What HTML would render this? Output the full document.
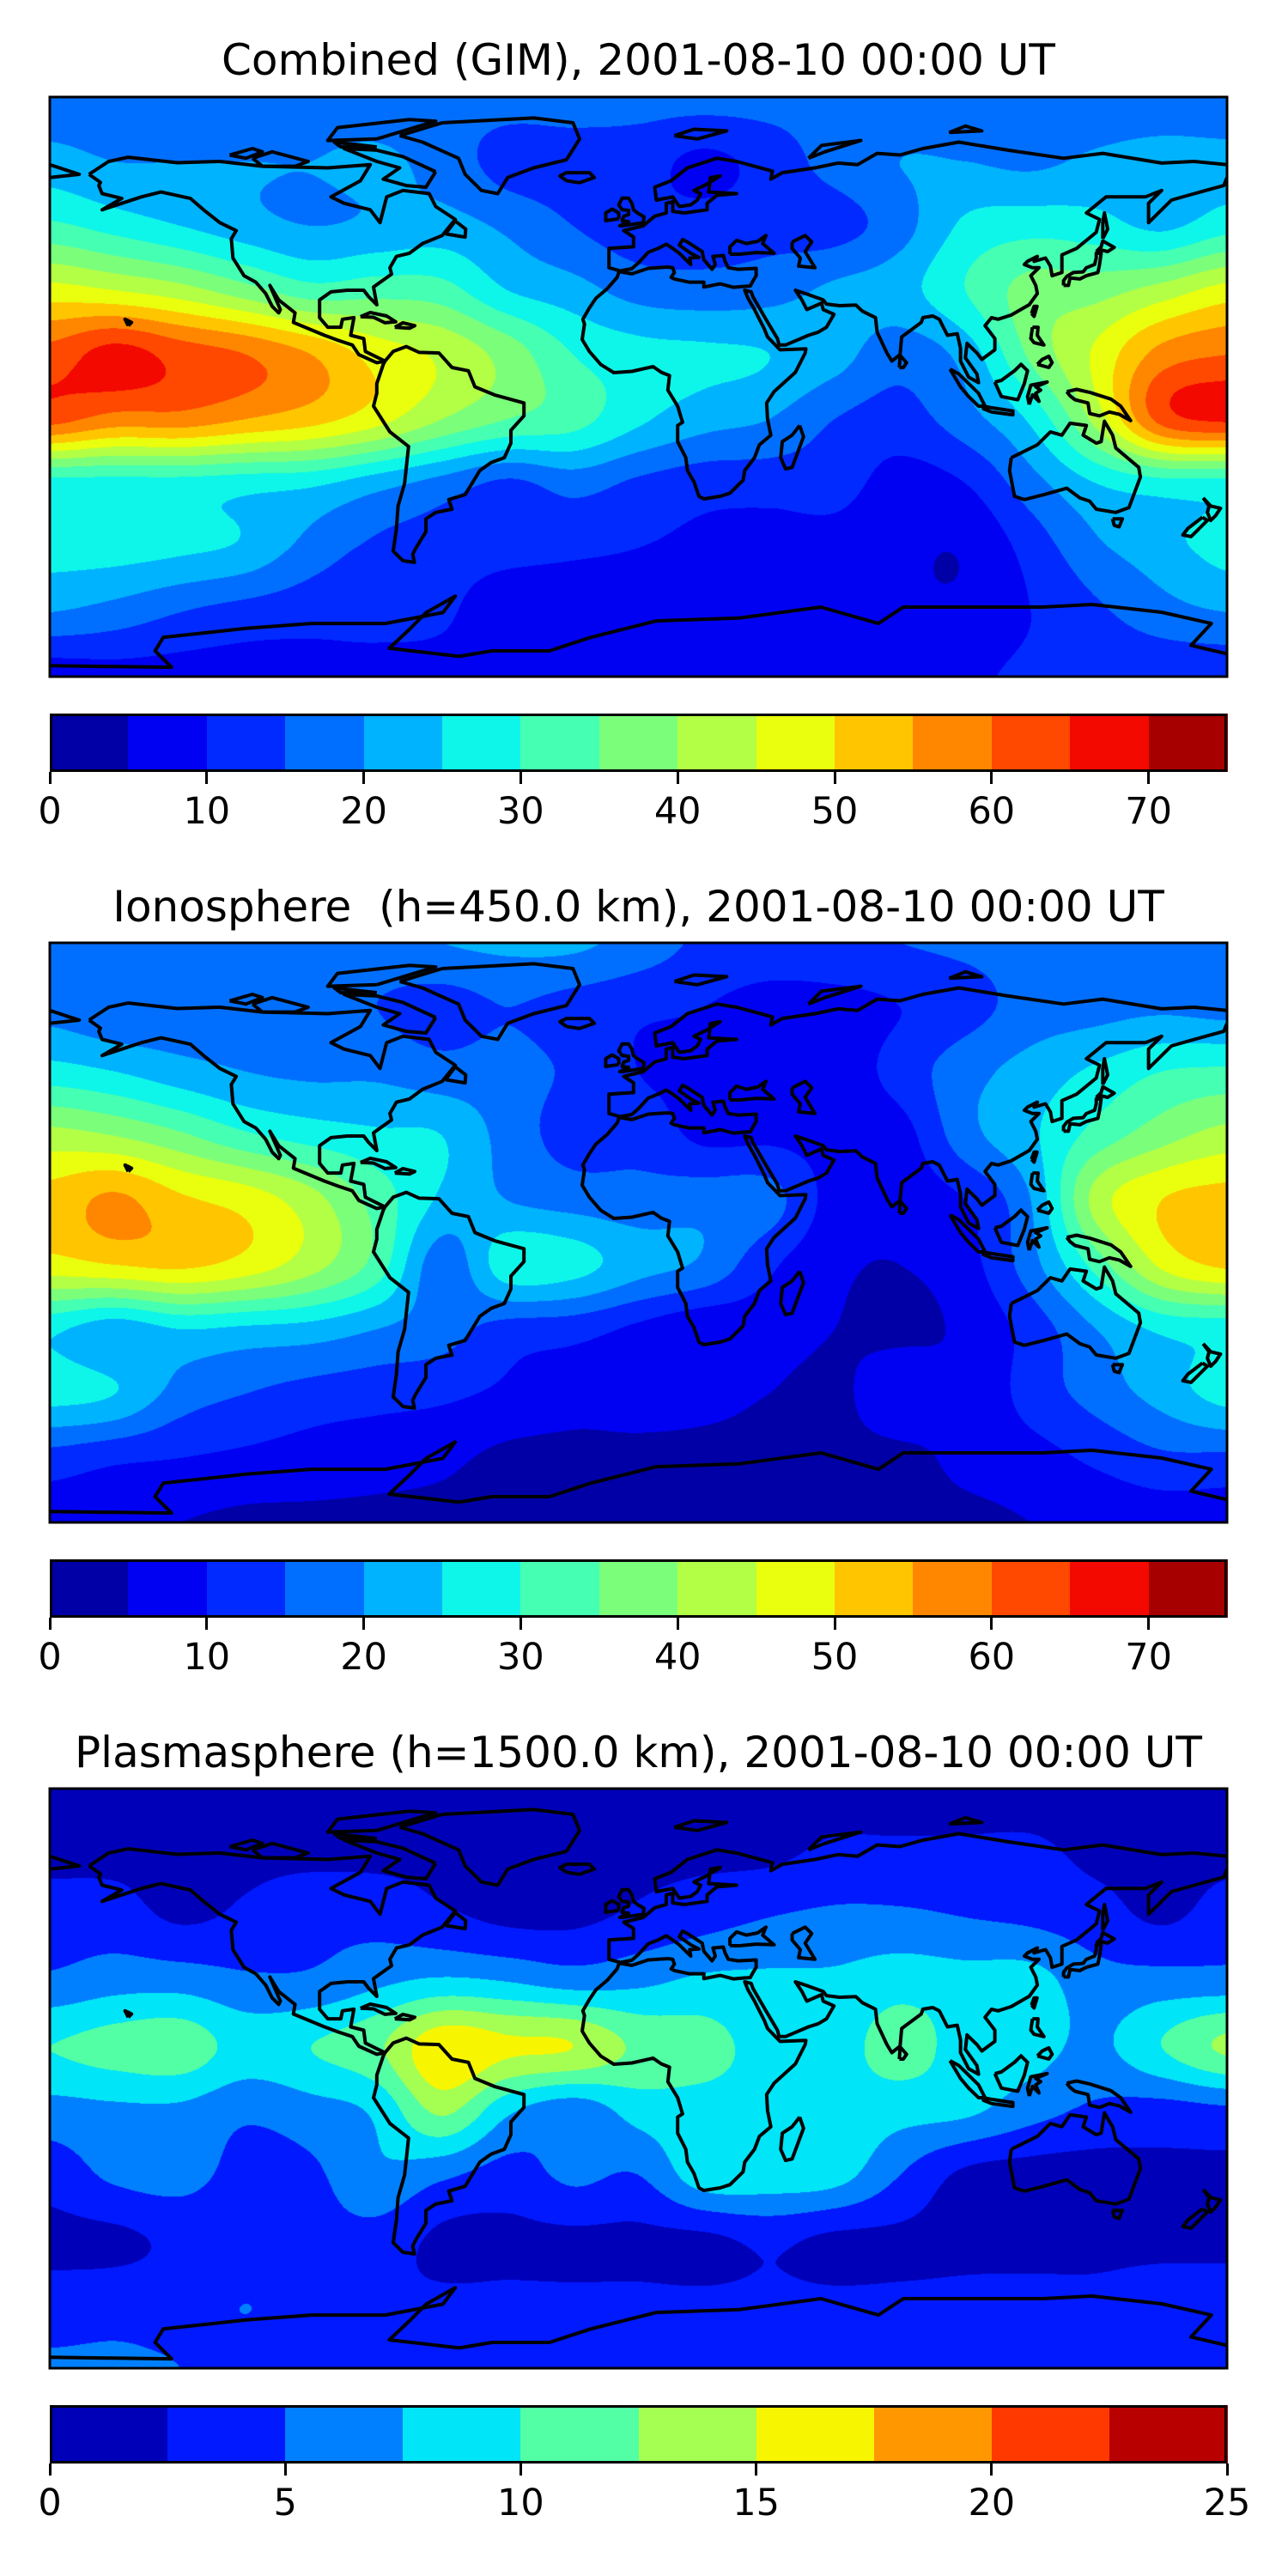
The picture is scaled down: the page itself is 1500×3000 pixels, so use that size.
<!DOCTYPE html>
<html><head><meta charset="utf-8">
<style>
html,body{margin:0;padding:0;background:#fff;}
body{width:1500px;height:3000px;position:relative;overflow:hidden;font-family:"DejaVu Sans","Liberation Sans",sans-serif;}
.title{position:absolute;left:0;width:1487px;text-align:center;font-size:50px;line-height:60px;color:#000;white-space:pre;}
canvas.map{position:absolute;left:58px;width:1371px;height:675px;}
svg.ov{position:absolute;left:0;top:0;overflow:visible;}
.cbar{position:absolute;left:58px;width:1371px;height:68px;}
.tick{position:absolute;width:3px;height:14px;background:#000;}
.tlab{position:absolute;font-size:43px;line-height:50px;width:100px;text-align:center;color:#000;}
</style></head>
<body>

<div class="title" style="top:40px">Combined (GIM), 2001-08-10 00:00 UT</div>
<canvas class="map" id="map0" width="1371" height="675" style="top:113px"></canvas>
<svg class="ov" id="ov0" width="1500" height="3000"></svg>
<div class="cbar" id="cb0" style="top:831px"></div>

<div class="title" style="top:1026px">Ionosphere  (h=450.0 km), 2001-08-10 00:00 UT</div>
<canvas class="map" id="map1" width="1371" height="675" style="top:1098px"></canvas>
<svg class="ov" id="ov1" width="1500" height="3000"></svg>
<div class="cbar" id="cb1" style="top:1816px"></div>

<div class="title" style="top:2011px">Plasmasphere (h=1500.0 km), 2001-08-10 00:00 UT</div>
<canvas class="map" id="map2" width="1371" height="675" style="top:2083px"></canvas>
<svg class="ov" id="ov2" width="1500" height="3000"></svg>
<div class="cbar" id="cb2" style="top:2801px"></div>

<script>
// ---- grid coordinates ----
const lonCats = [-180,-160,-140,-120,-100,-80,-60,-40,-20,0,20,40,60,80,100,120,140,160,180];
const latCats = [90,70,50,30,10,-10,-30,-50,-70,-90];

// ---- combined (GIM) TEC values (rows = latCats, cols = lonCats) ----
const gimValues = [
 [17,17,17,17,17,17,17,17,17,17,17,17,17,17,17,17,17,17,17],
 [22,20,20,20,20,21,18,13,13,12,9,12,17,20,20,19,21,22,22],
 [31,28,25,22,20,21,22,19,15,12,12,13,13,18,26,28,27,24,28],
 [47,45,42,37,32,33,32,25,22,18,17,18,21,23,30,37,38,42,47],
 [62,67,63,60,55,48,44,38,30,27,26,25,22,17,22,36,46,57,60],
 [62,58,58,55,52,47,40,35,32,26,22,20,15,13,18,26,42,62,66],
 [28,28,28,27,26,22,18,14,17,14,12,12,12,8,10,18,25,28,28],
 [27,27,26,24,18,14,13,12,11,10,9,8,8,6,5.5,12,19,23,27],
 [20,18,15,13,12,12,11,6,7,8,8,8,8,6,6,10,14,18,20],
 [7,8,8,8,8,8,8,8,8,8,8,8,8,8,9,11,11,11,11]
];
// ---- ionosphere values ----
const ionoValues = [
 [16,16,16,17,18,18,20,21,21,18,14,13,14,15,16,17,16,16,16],
 [18,16,17,19,17,15,13,15,13,11,10,8,8,10,13,17,18,19,18],
 [27,25,22,20,19,19,17,17,14,10,9,7,7,12,18,22,26,30,31],
 [42,40,36,31,28,26,25,18,13,13,9,9,8,8,18,24,32,38,42],
 [52,56,51,48,42,33,24,20,18,17,18,17,8,7,10,20,42,50,52],
 [48,50,51,48,42,33,17,28,27,22,19,11,6,5,8,18,32,46,51],
 [26,22,25,24,23,20,17,13,12,9,6,7,5,4,6,12,20,26,27],
 [27,25,18,15,13,12,11,9,7,7,6,5,4,8,6,12,17,22,27],
 [13,11,10,9,8,7,6,4,4,4,4,4,4,4,6,8,11,14,14],
 [7,6,5,4,4,4,4,4,4,4,4,4,4,4,4,5,6,7,7]
];
// ---- plasmasphere values ----
const plasValues = [
 [1.5,1.5,1.5,1.5,1.5,1.5,1.5,1.5,1.5,1.5,1.5,1.5,1.5,1.5,1.5,1.5,1.5,1.5,1.5],
 [2,2,2,2,2,2,2,2,2,2,2,2,3,3,3,3,2,2,2],
 [3.5,3.5,2.2,3,4,4,3,2,2,3,4,5,5.5,5.5,5,4.5,3.5,2.2,3.5],
 [5.5,6.5,6.5,5.5,5.5,7,8,7.5,6.5,7,8,8,8,9,8.5,8.5,6,6,6],
 [10,11,11.5,9,10,12,17,15.5,15,12,11,9,9,11,9,8.5,7,10,13],
 [6.5,7,7,5.5,6.5,8,13,8,6,8.5,9,9,9,8.5,8,6,4.5,4,4.5],
 [3.5,5.5,6,4,4.5,7,5.5,4,5.5,5,9,9,8.5,5,2,1.5,1.5,2,2],
 [2,2,3,3,4,4,2,2,2,2,2,3,2,2,2,2,2,2,2],
 [3.5,4,4,5,4,3,3,3,3,3,3,3,3,3,3,3,3,3.5,3.5],
 [5.5,5.5,5,4,4,4,4,4,4,4,4,4,4,4,4,4,4,4,4]
];
// ---- colorbar levels & tick labels ----
const levels0 = [0,5,10,15,20,25,30,35,40,45,50,55,60,65,70,75];
const levels2 = [0,2.5,5,7.5,10,12.5,15,17.5,20,22.5,25];
const ticks0 = [0,10,20,30,40,50,60,70];
const ticks2 = [0,5,10,15,20,25];

// ---- coastlines (lon,lat) ----
const coasts = [
 [[-168,66],[-162,70],[-156,71.3],[-141,69.6],[-128,70],[-115,68.5],[-95,68],[-82,69],[-85,64],[-94,59],[-90,57],[-82,55],[-79,51],[-77,59],[-72,61],[-64,60],[-62,56],[-56,52],[-60,47],[-66,44.5],[-70,41.5],[-74,40.5],[-76,37],[-75.5,35],[-81,31],[-80,25.5],[-82.5,28],[-84,30],[-89,30],[-94,29.5],[-97.5,27],[-97.5,21.5],[-95,18.5],[-91,18.5],[-90.5,21],[-87,21.5],[-88,16],[-84,15],[-83.5,11],[-79.5,9],[-77.5,8],[-80,7.5],[-85.5,10],[-87.5,13],[-92,14.5],[-96,16],[-105.5,20],[-105,23],[-110,27],[-112.7,31.5],[-109.5,24],[-110,23],[-112,25],[-114,29],[-117,32.5],[-120.6,34.5],[-124,40],[-124.5,46],[-123,48.5],[-128,51],[-133,55],[-137,58.5],[-146,60.5],[-152,59],[-158,57],[-164,55],[-158,58.5],[-164,60],[-165,62.5],[-164.5,63.5],[-168,66]],
 [[-77.5,8],[-75,11],[-71,12.5],[-67,10.7],[-61,10.5],[-57,6],[-52,5],[-50,0],[-44,-2.5],[-35,-5],[-35,-9],[-39,-13.5],[-39,-17.5],[-41,-22],[-45,-23.5],[-48.5,-26],[-53,-33.5],[-58,-35],[-57,-38],[-62,-39],[-65,-41],[-65,-45],[-68,-50],[-69,-52],[-68.5,-54.5],[-72,-54],[-75,-51],[-74,-44],[-73.5,-37],[-71.5,-30],[-70.3,-18.5],[-76,-14],[-81,-6],[-80,-2],[-80,1],[-78,7],[-77.5,8]],
 [[-73,78],[-60,82],[-32,83.5],[-20,82],[-18,77],[-22,70.5],[-32,68],[-40,65],[-43,60],[-48,61],[-53,66],[-55,71],[-66,76],[-73,78]],
 [[-5.9,35.8],[-2,35.1],[3,36.8],[9,37.2],[10.5,37],[11,35.5],[10,34],[11,33.5],[15.5,32.5],[20,32.5],[20,31],[25,32],[29,30.9],[32.3,31.2],[34.2,31.3],[35,32.8],[36,34.5],[36,36.8],[30.5,36.5],[27.5,37],[26.5,39],[26,40.8],[22.8,40.5],[23.5,38],[22.5,36.5],[20,39.5],[19.5,42],[15,45],[13.5,45.7],[12.5,44],[16,41.5],[18.5,40.2],[15.7,40],[16,38],[12.5,41.5],[10.5,43],[8.5,44.3],[6,43],[3,41.8],[0,38.5],[-2,36.7],[-5.5,36],[-9,37],[-9,43],[-1.5,43.5],[-1.5,46.5],[-4.5,48.5],[1.5,50],[5,53],[8.5,54],[8.5,57],[10.5,57.5],[10.5,54.5],[14,54],[21,55],[21,57],[24,59.5],[30,60],[21.5,60.5],[22,65],[25,65.5],[21,63],[17,61],[19,60],[18,58],[16,56.5],[12.5,56],[10.5,59],[5.5,58],[5,62],[10,64],[15,68],[24,71],[30,70],[41,67],[40.5,64.5],[44,66.5],[54,68],[61,69.5],[67,69],[73,72.5],[80,72],[87,74],[98,76],[113,73.5],[130,71],[142,72.5],[160,69.5],[170,70],[180,69]],
 [[-180,69],[-174,67],[-171,66],[-180,65]],
 [[180,65],[179,62.5],[170,60],[163,58],[156,51],[156,57],[160,61],[155,59],[143,59],[137,54],[141,52],[140,48],[134,43],[129.5,41],[129.5,35.5],[126.5,34.5],[126,37.5],[124.5,40],[121,39],[122,40.5],[119,39],[118,38],[120.5,37],[122.5,37],[120,34.5],[121.5,31.5],[122,29],[119.5,25.5],[114,22.3],[110,21],[108,21.5],[106,19],[109,15],[109,11.5],[105,8.5],[103.5,10.5],[100.5,13.5],[100,9],[103.5,4],[104,1.3],[101,3],[98.5,8],[98.5,12],[97.5,16.5],[94.5,16],[92,21],[90,22],[87,21.5],[86.5,20],[80.5,15.5],[80,10],[77.5,8],[76,10.5],[73,17],[72.5,21.5],[68.5,23.5],[66.5,25.4],[61.5,25.2],[57.5,25.7],[56.5,27],[51,29],[48,30],[50,27],[51.5,24],[56,26],[56.5,24],[59.8,22.5],[57.5,18.5],[55,17],[52,16],[45,13],[43,13],[42.5,15],[39,21],[35,28],[34.5,29.5],[32.5,30],[33.5,27.5],[35.5,24],[37,21],[38.5,18],[39.5,15.5],[43.3,11.5],[51.2,11.8],[51,10.5],[48,4.5],[41.5,-1.5],[39.2,-5],[39.5,-10],[40.5,-15],[37,-18],[35.5,-22],[32.5,-26],[32,-29],[28,-33],[25,-34],[20,-34.8],[18.5,-34],[17,-29.5],[15,-26],[14.5,-22],[12,-17],[12,-12],[13.5,-11],[12,-6],[9,-1],[9.5,3.5],[7,4.5],[4.5,6.3],[-2,4.8],[-7.5,4.4],[-11.5,6.9],[-15,11],[-17.2,14.7],[-16.5,19.5],[-17,21],[-15,24.5],[-13,27.5],[-9.5,30.5],[-6.5,34],[-5.9,35.8]],
 [[28,41.2],[28,43.5],[30,45.5],[33,44.5],[36.5,45.2],[39,47],[38,44.5],[41.5,41.5],[36,41.7],[31,41.2],[28,41.2]],
 [[47,45],[51,47],[53,45],[51,42],[54,37],[49,37.5],[49.5,40],[47,43],[47,45]],
 [[114,-22],[113.5,-26],[115,-34],[118,-35],[124,-33.5],[131,-31.5],[135,-34.5],[138,-35.5],[140,-38],[146,-39],[150,-37.5],[153.5,-28],[153,-25],[146,-19],[145,-15],[142.5,-10.7],[141.5,-17],[140,-17.5],[136,-15],[137,-12],[132,-11.3],[129.5,-15],[126,-14],[122,-18],[117,-20.5],[114,-22]],
 [[145,-41],[148,-41],[147,-43.5],[145.5,-43],[145,-41]],
 [[172.7,-34.5],[175,-37],[178,-37.7],[176.5,-40],[175,-41.5],[174,-39],[174.5,-37],[172.7,-34.5]],
 [[172.5,-40.5],[174,-41.5],[171,-44.5],[169,-46.5],[166.5,-46],[168,-44],[172.5,-40.5]],
 [[130,31.5],[131.5,31.5],[132,33.8],[135,33.5],[137,34.5],[140.5,35.5],[141,38],[141.5,41.5],[140,41.5],[140,40],[139.5,38],[137,37],[136,35.7],[133,35.5],[131,34.3],[130,33],[130,31.5]],
 [[140,42],[141.5,42.5],[143.5,42],[145.5,43.3],[142,45.3],[141.5,43.5],[140,42]],
 [[142,46],[143.5,49],[142.5,54],[142,51],[142,46]],
 [[120.2,22.8],[121,21.9],[121.9,25],[121,25],[120.2,22.8]],
 [[120.5,18.5],[122.2,18.5],[122,16],[124,13],[121,13.7],[120,15],[120.5,18.5]],
 [[122,7],[125.5,6],[126.5,7.5],[125.5,9.5],[123.5,8.5],[122,7]],
 [[109,1.5],[111,-3],[116,-4],[118,1],[119,5],[117,7],[115,5],[111,2],[109,1.5]],
 [[95.3,5.5],[98,4],[104,-2],[106,-6],[104,-6],[101,-3],[98.5,0],[95.3,5.5]],
 [[105.5,-6],[108,-6.5],[114.5,-7.5],[114.5,-8.7],[108,-7.8],[105.5,-6.8],[105.5,-6]],
 [[119.5,-5.5],[119,-3],[120,0.5],[125,1.5],[121.5,0],[123,-1],[121.5,-2],[122.5,-4.5],[120.5,-2.5],[119.5,-5.5]],
 [[131,-1.5],[134,-0.8],[138,-1.7],[144.5,-3.8],[147.5,-6],[150.5,-10.5],[147,-8.5],[144,-7.8],[141,-9],[138,-8.3],[137.5,-5],[133.5,-4],[132,-2.8],[131,-1.5]],
 [[79.8,6],[80,9.8],[82,7.5],[81,6],[79.8,6]],
 [[49.3,-12],[50.5,-15.5],[47,-25],[45,-25.5],[43.5,-22],[44,-17],[47,-15],[49.3,-12]],
 [[-5,50],[1.5,51],[1.7,52.8],[-0.3,54],[-1.5,55],[-2,57],[-3,58.6],[-5,58.6],[-6,56.5],[-5,55],[-3,54.8],[-3,53.5],[-4.5,53],[-5,51.6],[-3,51.3],[-5.7,50],[-5,50]],
 [[-6,52.2],[-6,54],[-8,55.2],[-10,54],[-10,51.6],[-6,52.2]],
 [[-22,64],[-24,65.5],[-22,66.5],[-15,66.5],[-13.5,65],[-18,63.4],[-22,64]],
 [[-85,21.8],[-82,23.1],[-77,22],[-74.2,20.2],[-77.5,19.9],[-81,21.6],[-85,21.8]],
 [[-74.5,18.5],[-72,19.9],[-68.4,19],[-70,18.2],[-74.5,18.5]],
 [[-62,66.8],[-65,62],[-71,62.5],[-78,64.5],[-73,68],[-80,70],[-90,74],[-80,73.5],[-72,71.5],[-62,66.8]],
 [[-118,71],[-112,73],[-101,70],[-105,68.5],[-115,68.5],[-118,71]],
 [[-80,77],[-62,82.5],[-70,83],[-92,80.5],[-95,76.5],[-80,77]],
 [[-80,74.5],[-93,76],[-91,74.5],[-80,74.5]],
 [[-125,72],[-118,74],[-115,73],[-120,71],[-125,72]],
 [[11,78],[17,80],[27,79.5],[18,77],[11,78]],
 [[52,71],[56,75],[68,76.5],[57,73],[52,71]],
 [[95,79],[105,79.5],[100,81],[95,79]],
 [[-59,47.5],[-53,46.5],[-52.8,49],[-56,51.5],[-59,47.5]],
 [[-156,19],[-155,20],[-156,20.5],[-157,21],[-156,19]],
 [[-180,-86.6],[-142.8,-87.1],[-147.8,-82],[-145.3,-77.8],[-120,-75],[-100,-73.5],[-77.4,-73.5],[-59.8,-70.1],[-56,-65],[-64.9,-70.1],[-69.9,-75.2],[-76.2,-81.2],[-54.8,-83.7],[-44.8,-82],[-27.2,-82],[-14.6,-77.8],[5.5,-72.7],[30.7,-71.8],[55.8,-68.4],[73.4,-73.5],[81,-68.4],[106.1,-68.4],[123.7,-68.4],[138.8,-67.6],[160,-70],[175.2,-73.5],[169,-80.3],[180,-82.9]]
];

// ---- helpers ----
const MX = 58, MW = 1371, MH = 675;
function jetChan(pts, x){
  for (let i=1;i<pts.length;i++){
    if (x <= pts[i][0]){
      const a = pts[i-1], b = pts[i];
      return a[1] + (b[1]-a[1])*(x-a[0])/(b[0]-a[0]);
    }
  }
  return pts[pts.length-1][1];
}
function jet(x){
  const r = jetChan([[0,0],[0.35,0],[0.66,1],[0.89,1],[1,0.5]], x);
  const g = jetChan([[0,0],[0.125,0],[0.375,1],[0.64,1],[0.91,0],[1,0]], x);
  const b = jetChan([[0,0.5],[0.11,1],[0.34,1],[0.65,0],[1,0]], x);
  return [Math.round(r*255), Math.round(g*255), Math.round(b*255)];
}
function levelColors(levels){
  const n = levels.length - 1, out = [];
  for (let i=0;i<n;i++) out.push(jet((i+0.5)/n));
  return out;
}
function cr(p0,p1,p2,p3,t){
  return 0.5*((2*p1) + (-p0+p2)*t + (2*p0-5*p1+4*p2-p3)*t*t + (-p0+3*p1-3*p2+p3)*t*t*t);
}
function lonX(lon){ return (lon - lonCats[0]) / (lonCats[lonCats.length-1] - lonCats[0]) * MW; }
function latY(lat){ return (latCats[0] - lat) / (latCats[0] - latCats[latCats.length-1]) * MH; }

function drawMap(canvasId, grid, levels){
  const cv = document.getElementById(canvasId);
  const ctx = cv.getContext('2d');
  const img = ctx.createImageData(MW, MH);
  const cols = levelColors(levels);
  const nr = grid.length, nc = grid[0].length;
  const step = levels[1]-levels[0], lo = levels[0];
  const dLon = lonCats[1]-lonCats[0], dLat = latCats[0]-latCats[1];
  const rowVals = new Float64Array(nc);
  for (let py=0; py<MH; py++){
    const lat = latCats[0] - (py+0.5)/MH*(latCats[0]-latCats[nr-1]);
    let v = (latCats[0]-lat)/dLat; let i = Math.min(Math.floor(v), nr-2); const tv = v - i;
    const r0 = Math.max(i-1,0), r1 = i, r2 = i+1, r3 = Math.min(i+2,nr-1);
    for (let j=0;j<nc;j++) rowVals[j] = cr(grid[r0][j],grid[r1][j],grid[r2][j],grid[r3][j],tv);
    for (let px=0; px<MW; px++){
      const lon = lonCats[0] + (px+0.5)/MW*(lonCats[nc-1]-lonCats[0]);
      let u = (lon-lonCats[0])/dLon; let k = Math.min(Math.floor(u), nc-2); const tu = u - k;
      const c0 = Math.max(k-1,0), c3 = Math.min(k+2,nc-1);
      const val = cr(rowVals[c0],rowVals[k],rowVals[k+1],rowVals[c3],tu);
      let L = Math.floor((val-lo)/step); if (L<0) L=0; if (L>cols.length-1) L=cols.length-1;
      const c = cols[L], o = (py*MW+px)*4;
      img.data[o]=c[0]; img.data[o+1]=c[1]; img.data[o+2]=c[2]; img.data[o+3]=255;
    }
  }
  ctx.putImageData(img,0,0);
}

const SVGNS = 'http://www.w3.org/2000/svg';
function drawOverlay(svgId, top){
  const svg = document.getElementById(svgId);
  const clip = document.createElementNS(SVGNS,'clipPath');
  clip.setAttribute('id', svgId+'-clip');
  const cr_ = document.createElementNS(SVGNS,'rect');
  cr_.setAttribute('x',MX); cr_.setAttribute('y',top); cr_.setAttribute('width',MW); cr_.setAttribute('height',MH);
  clip.appendChild(cr_); svg.appendChild(clip);
  const g = document.createElementNS(SVGNS,'g');
  g.setAttribute('clip-path','url(#'+svgId+'-clip)');
  svg.appendChild(g);
  coasts.forEach(function(line){
    let d = '';
    line.forEach(function(p,idx){ d += (idx?'L':'M') + (MX+lonX(p[0])).toFixed(1) + ',' + (top+latY(p[1])).toFixed(1); });
    const path = document.createElementNS(SVGNS,'path');
    path.setAttribute('d', d);
    path.setAttribute('fill','none'); path.setAttribute('stroke','#000');
    path.setAttribute('stroke-width','4'); path.setAttribute('stroke-linejoin','round');
    
    
    g.appendChild(path);
  });
  const fr = document.createElementNS(SVGNS,'rect');
  fr.setAttribute('x',MX); fr.setAttribute('y',top); fr.setAttribute('width',MW); fr.setAttribute('height',MH);
  fr.setAttribute('fill','none'); fr.setAttribute('stroke','#000'); fr.setAttribute('stroke-width','3');
  
  
  svg.appendChild(fr);
}

function drawColorbar(cbId, levels, ticks, top){
  const cb = document.getElementById(cbId);
  const cols = levelColors(levels);
  const lo = levels[0], hi = levels[levels.length-1];
  for (let i=0;i<cols.length;i++){
    const s = document.createElement('div');
    const x0 = (levels[i]-lo)/(hi-lo)*MW, x1 = (levels[i+1]-lo)/(hi-lo)*MW;
    s.style.cssText = 'position:absolute;top:0;height:68px;left:'+x0+'px;width:'+(x1-x0+0.6)+'px;background:rgb('+cols[i].join(',')+')';
    
    
    cb.appendChild(s);
  }
  const b = document.createElement('div');
  b.style.cssText = 'position:absolute;left:0;top:0;width:'+(MW-6)+'px;height:62px;border:3px solid #000;box-sizing:content-box;';
  
  
  cb.appendChild(b);
  ticks.forEach(function(t){
    const x = MX + (t-lo)/(hi-lo)*MW;
    const tk = document.createElement('div');
    tk.className = 'tick';
    tk.style.left = (x-1.5)+'px'; tk.style.top = (top+68)+'px';
    
    
    document.body.appendChild(tk);
    const lb = document.createElement('div');
    lb.className = 'tlab';
    lb.textContent = String(t);
    lb.style.left = (x-50)+'px'; lb.style.top = (top+68+21)+'px';
    
    
    document.body.appendChild(lb);
  });
}

drawMap('map0', gimValues, levels0);
drawMap('map1', ionoValues, levels0);
drawMap('map2', plasValues, levels2);
drawOverlay('ov0', 113);
drawOverlay('ov1', 1098);
drawOverlay('ov2', 2083);
drawColorbar('cb0', levels0, ticks0, 831);
drawColorbar('cb1', levels0, ticks0, 1816);
drawColorbar('cb2', levels2, ticks2, 2801);
</script>
</body></html>
